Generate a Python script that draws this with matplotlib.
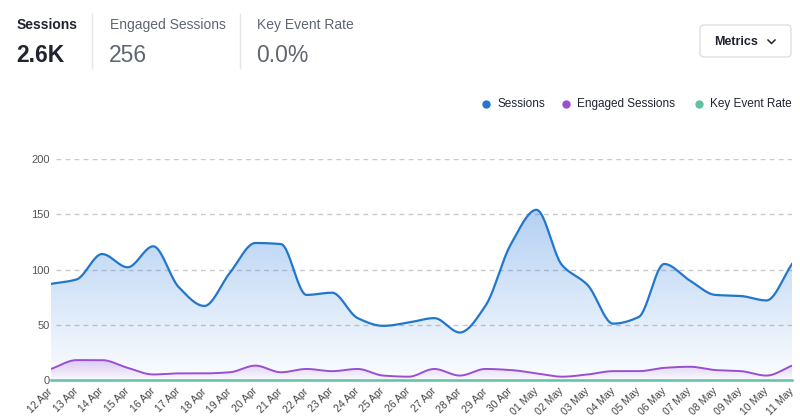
import numpy as np
import matplotlib
matplotlib.use("Agg")
import matplotlib.pyplot as plt
from matplotlib.patches import FancyBboxPatch
from matplotlib.lines import Line2D
from matplotlib.transforms import IdentityTransform

plt.rcParams['font.family'] = ['Liberation Sans', 'DejaVu Sans']

# data
dates = ['12 Apr', '13 Apr', '14 Apr', '15 Apr', '16 Apr', '17 Apr', '18 Apr',
         '19 Apr', '20 Apr', '21 Apr', '22 Apr', '23 Apr', '24 Apr', '25 Apr',
         '26 Apr', '27 Apr', '28 Apr', '29 Apr', '30 Apr', '01 May', '02 May',
         '03 May', '04 May', '05 May', '06 May', '07 May', '08 May', '09 May',
         '10 May', '11 May']
sessions = [87, 91, 114, 102, 121, 84, 67, 97, 124, 123, 77, 79, 56, 49, 52,
            56, 43, 67, 123, 154, 104, 86, 51, 57, 105, 90, 77, 76, 72, 105]
engaged = [10, 18, 18, 11, 5, 6, 6, 7, 13, 7, 10, 8, 10, 4, 3,
           10, 4, 10, 9, 6, 3, 5, 8, 8, 11, 12, 9, 8, 4, 13]
key_rate = [0] * 30
yticks = [0, 50, 100, 150, 200]

blue = '#2277cc'
purple = '#9a4fd2'
green = '#62c1a2'

W, H = 800, 418


def monotone(x, y, n=24):
    # Fritsch-Carlson monotone cubic, only for drawing the smooth line
    x = np.asarray(x, float)
    y = np.asarray(y, float)
    h = np.diff(x)
    d = np.diff(y) / h
    m = np.zeros_like(y)
    m[0], m[-1] = d[0], d[-1]
    for k in range(1, len(y) - 1):
        if d[k - 1] * d[k] > 0:
            m[k] = 2 / (1 / d[k - 1] + 1 / d[k])
    xs, ys = [], []
    for k in range(len(x) - 1):
        t = np.linspace(0, 1, n, endpoint=False)
        h00 = 2 * t**3 - 3 * t**2 + 1
        h10 = t**3 - 2 * t**2 + t
        h01 = -2 * t**3 + 3 * t**2
        h11 = t**3 - t**2
        xs.append(x[k] + t * h[k])
        ys.append(h00 * y[k] + h10 * h[k] * m[k] + h01 * y[k + 1] + h11 * h[k] * m[k + 1])
    xs.append([x[-1]])
    ys.append([y[-1]])
    return np.concatenate(xs), np.concatenate(ys)


fig = plt.figure(figsize=(8, 4.18), dpi=100)
ax = fig.add_axes([51 / W, (H - 380) / H, 741 / W, 221 / H])

x = np.arange(len(dates))


def gradient_fill(xv, yv, rgb, a_top, top):
    xs, ys = monotone(xv, yv)
    poly = ax.fill_between(xs, ys, 0, color='none', lw=0)
    alpha = np.linspace(0.02, a_top, 256).reshape(-1, 1)
    img = np.zeros((256, 1, 4))
    img[..., 0], img[..., 1], img[..., 2] = rgb
    img[..., 3] = alpha
    im = ax.imshow(img, extent=[xv[0], xv[-1], 0, top], origin='lower',
                   aspect='auto', zorder=1)
    im.set_clip_path(poly.get_paths()[0], transform=ax.transData)
    return xs, ys


bx, by = gradient_fill(x, sessions, (0.29, 0.56, 0.89), 0.42, 155)
px_, py_ = gradient_fill(x, engaged, (0.62, 0.33, 0.85), 0.28, 18)

for yv in yticks[1:]:
    ax.axhline(yv, xmin=5 / 741, xmax=1, color='#c9c9c9', lw=1,
               ls=(0, (3.5, 3)), zorder=0)

ax.plot(bx, by, color=blue, lw=1.6, zorder=3)
ax.plot(px_, py_, color=purple, lw=1.4, zorder=3)
ax.plot(x, key_rate, color=green, lw=1.8, zorder=4, clip_on=False)

ax.set_xlim(0, 29)
ax.set_ylim(0, 200)
ax.set_yticks(yticks)
ax.set_xticks(x)
ax.set_xticklabels(dates, rotation=45, ha='right', va='center',
                   rotation_mode='anchor', fontsize=7.5, color='#444444')
ax.tick_params(axis='x', length=0, pad=7)
ax.tick_params(axis='y', length=0, pad=1, labelsize=8, labelcolor='#555555')
for s in ax.spines.values():
    s.set_visible(False)
ax.set_facecolor('none')


def fx(px):
    return px / W


def fy(py):
    return 1 - py / H


# header stats
fig.text(fx(17), fy(25), 'Sessions', fontsize=10, fontweight='bold',
         color='#1f2430', va='center')
fig.text(fx(16), fy(56), '2.6K', fontsize=16.5, fontweight='bold',
         color='#1f2430', va='center')
fig.text(fx(110), fy(25), 'Engaged Sessions', fontsize=10,
         color='#5f6673', va='center')
fig.text(fx(109), fy(56), '256', fontsize=16.5, color='#5f6673', va='center')
fig.text(fx(257), fy(25), 'Key Event Rate', fontsize=10,
         color='#5f6673', va='center')
fig.text(fx(256), fy(56), '0.0%', fontsize=16.5, color='#5f6673', va='center')
for sx in (92, 240):
    fig.add_artist(Line2D([fx(sx), fx(sx)], [fy(14), fy(68)],
                          color='#e3e5e8', lw=1, transform=fig.transFigure))

# metrics button
btn = FancyBboxPatch((700, H - 57), 91, 32, boxstyle='round,pad=0,rounding_size=4',
                     transform=IdentityTransform(), facecolor='white',
                     edgecolor='#dcdfe3', lw=1)
fig.add_artist(btn)
fig.text(fx(736), fy(42), 'Metrics', fontsize=9, fontweight='bold',
         color='#1f2430', ha='center', va='center')
chev = Line2D([768, 771.5, 775], [H - 40, H - 43.5, H - 40], color='#1f2430',
              lw=1.1, transform=IdentityTransform())
fig.add_artist(chev)

# legend
for lx, label, col in ((486, 'Sessions', blue), (566, 'Engaged Sessions', purple),
                       (699, 'Key Event Rate', green)):
    fig.add_artist(Line2D([lx], [H - 104], marker='o', markersize=5,
                          color=col, lw=0, transform=IdentityTransform()))
    fig.text(fx(lx + 11), fy(104), label, fontsize=8.5, color='#1f2430',
             va='center')

fig.savefig('out.png', dpi=100)
